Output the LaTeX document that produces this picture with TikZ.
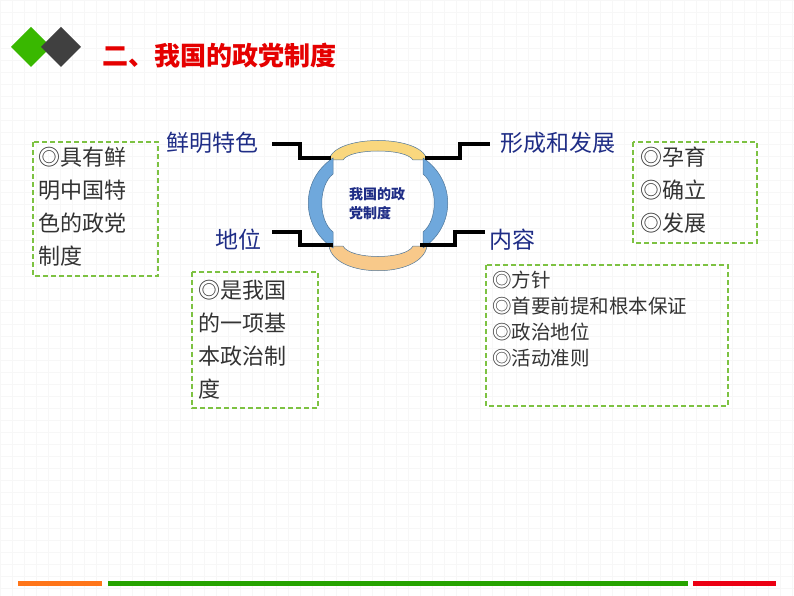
\documentclass[tikz,border=0pt]{standalone}
\usepackage{fontspec}
\setmainfont{Noto Sans CJK SC}
\definecolor{navy}{HTML}{1F2D86}
\definecolor{bgreen}{HTML}{7DC242}
\definecolor{ylw}{HTML}{F9D77E}
\definecolor{org}{HTML}{F8C98A}
\definecolor{blu}{HTML}{6FA8DC}
\tikzset{lab/.style={text=navy,font=\fontsize{23}{26}\selectfont,inner sep=0pt},
 dbox/.style={draw=bgreen,line width=1.2pt,dash pattern=on 5pt off 3pt},
 btxt/.style={text=black!80,font=\fontsize{22}{33}\selectfont,align=left,anchor=north west,inner sep=0pt},
 conn/.style={line width=3.4pt,black},
 band/.style={draw=blu!70!black,line width=0.5pt}}
\begin{document}
\begin{tikzpicture}[x=1pt,y=-1pt]
\useasboundingbox (0,0) rectangle (794,596);
\fill[white] (0,0) rectangle (794,596);
\draw[black!3,step=12pt] (0,0) grid (794,596);
% diamonds
\fill[green!60!black!70!lime] (31,27) -- (51,47) -- (31,67) -- (11,47) -- cycle;
\fill[black!75] (61,27) -- (81,47) -- (61,67) -- (41,47) -- cycle;
\node[anchor=west,text=red!90!black,font=\fontsize{26}{28}\selectfont\bfseries,inner sep=0pt] (title) at (102,56) {二、我国的政党制度};
% central shape
\fill[ylw,band] (329,160) .. controls (334,134) and (422,134) .. (427,160) -- (413,160) .. controls (406,148) and (350,148) .. (343,160) -- cycle;
\fill[org,band] (329,246) .. controls (334,279) and (422,279) .. (427,246) -- (413,246) .. controls (406,260) and (350,260) .. (343,246) -- cycle;
\fill[blu,band] (333,158) .. controls (300,180) and (300,226) .. (333,248) -- (333,232) .. controls (318,220) and (318,186) .. (333,174) -- cycle;
\fill[blu,band] (423,158) .. controls (456,180) and (456,226) .. (423,248) -- (423,232) .. controls (438,220) and (438,186) .. (423,174) -- cycle;
\node[text=navy,font=\fontsize{14}{19}\selectfont\bfseries,align=left] (core) at (377,204) {我国的政\\党制度};
% labels
\node[lab] (l1) at (212,143) {鲜明特色};
\node[lab] (l2) at (558,143) {形成和发展};
\node[lab] (l3) at (238,240) {地位};
\node[lab] (l4) at (512,240) {内容};
\coordinate (a1) at (272,144);
\coordinate (a3) at (272,232);
\coordinate (a2) at (490,144);
\coordinate (a4) at (485,232);
\coordinate (c1) at (331,158);
\coordinate (c2) at (425,158);
\coordinate (c3) at (333,245);
\coordinate (c4) at (420,245);
\draw[conn] (a1) -- (300,144) -- (300,158) -- (c1);
\draw[conn] (a3) -- (300,232) -- (300,245) -- (c3);
\draw[conn] (c2) -- (460,158) -- (460,144) -- (a2);
\draw[conn] (c4) -- (455,245) -- (455,232) -- (a4);
% boxes
\draw[dbox] (33,142) rectangle (158,276);
\node[btxt] (t1) at (38,147) {◎具有鲜\\明中国特\\色的政党\\制度};
\draw[dbox] (192,272) rectangle (318,408);
\node[btxt] (t2) at (198,280) {◎是我国\\的一项基\\本政治制\\度};
\draw[dbox] (633,142) rectangle (757,243);
\node[btxt] (t3) at (640,147) {◎孕育\\◎确立\\◎发展};
\draw[dbox] (486,265) rectangle (728,406);
\node[btxt,font=\fontsize{19.5}{26}\selectfont] (t4) at (492,271) {◎方针\\◎首要前提和根本保证\\◎政治地位\\◎活动准则};
% bottom bars
\fill[orange!80!red!90] (18,581) rectangle (102,586);
\fill[green!55!black!80!lime] (108,581) rectangle (688,586);
\fill[red!70!purple] (693,581) rectangle (776,586);
\end{tikzpicture}
\end{document}
